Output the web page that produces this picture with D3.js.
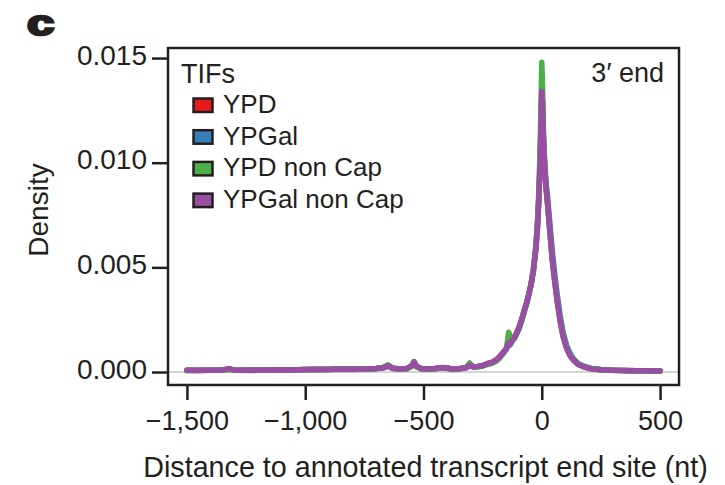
<!DOCTYPE html>
<html>
<head>
<meta charset="utf-8">
<script src="https://cdn.jsdelivr.net/npm/d3@7"></script>
<style>
  body { margin: 0; background: #fff; }
  svg text { font-family: "Liberation Sans", Arial, Helvetica, sans-serif; fill: #231f20; }
</style>
</head>
<body>
<div id="chart"></div>
<script>
// distance to annotated transcript end site (nt)
var xs = [-1500,-1450,-1400,-1350,-1320,-1300,-1250,-1200,-1150,-1100,-1050,-1000,-950,-900,-850,-800,-750,-700,-670,-650,-630,-600,-570,-550,-540,-530,-510,-480,-450,-420,-400,-380,-350,-320,-305,-290,-270,-250,-230,-210,-195,-180,-165,-150,-140,-135,-125,-115,-105,-95,-85,-75,-65,-55,-45,-35,-25,-18,-12,-7,-3,0,3,7,12,18,25,35,45,55,65,78,90,105,120,135,155,180,210,250,300,350,400,450,500];

var ypd = [0.00008,0.00007,0.00009,0.00010,0.00014,0.00009,0.00008,0.00010,0.00010,0.00011,0.00011,0.00012,0.00012,0.00013,0.00014,0.00014,0.00015,0.00017,0.00021,0.00029,0.00018,0.00016,0.00017,0.00029,0.00048,0.00027,0.00017,0.00016,0.00017,0.00021,0.00019,0.00015,0.00016,0.00021,0.00033,0.00025,0.00027,0.00031,0.00040,0.00047,0.00056,0.00071,0.00092,0.00112,0.00145,0.00135,0.00152,0.00168,0.00192,0.00218,0.00252,0.00292,0.00328,0.00372,0.00422,0.00492,0.00592,0.00705,0.00845,0.01010,0.01190,0.01345,0.01290,0.01110,0.00990,0.00880,0.00800,0.00665,0.00535,0.00435,0.00345,0.00245,0.00172,0.00115,0.00078,0.00056,0.00036,0.00024,0.00015,0.00011,0.00008,0.00007,0.00006,0.00006,0.00005];

var ypgal = [0.00007,0.00008,0.00009,0.00009,0.00015,0.00009,0.00008,0.00009,0.00010,0.00011,0.00010,0.00012,0.00013,0.00012,0.00014,0.00013,0.00015,0.00017,0.00020,0.00028,0.00018,0.00015,0.00017,0.00028,0.00046,0.00027,0.00016,0.00015,0.00017,0.00021,0.00019,0.00014,0.00016,0.00020,0.00030,0.00024,0.00026,0.00030,0.00039,0.00045,0.00054,0.00068,0.00088,0.00108,0.00135,0.00128,0.00148,0.00162,0.00186,0.00212,0.00246,0.00286,0.00322,0.00366,0.00416,0.00486,0.00585,0.00695,0.00835,0.00995,0.01175,0.01330,0.01285,0.01120,0.01010,0.00905,0.00830,0.00700,0.00570,0.00465,0.00372,0.00268,0.00190,0.00128,0.00088,0.00062,0.00040,0.00027,0.00017,0.00012,0.00009,0.00007,0.00006,0.00006,0.00005];

var ypdNonCap = [0.00007,0.00007,0.00008,0.00009,0.00012,0.00008,0.00007,0.00008,0.00009,0.00010,0.00010,0.00011,0.00011,0.00012,0.00013,0.00012,0.00014,0.00016,0.00022,0.00035,0.00017,0.00014,0.00016,0.00027,0.00044,0.00025,0.00014,0.00013,0.00015,0.00020,0.00017,0.00012,0.00014,0.00022,0.00043,0.00026,0.00024,0.00028,0.00036,0.00042,0.00050,0.00064,0.00085,0.00110,0.00190,0.00175,0.00150,0.00160,0.00185,0.00210,0.00245,0.00285,0.00325,0.00372,0.00425,0.00500,0.00605,0.00725,0.00880,0.01080,0.01300,0.01480,0.01380,0.01150,0.00990,0.00875,0.00790,0.00655,0.00525,0.00428,0.00340,0.00245,0.00175,0.00118,0.00082,0.00058,0.00038,0.00025,0.00016,0.00011,0.00008,0.00006,0.00005,0.00005,0.00004];

var ypgalNonCap = [0.00008,0.00008,0.00009,0.00010,0.00016,0.00009,0.00008,0.00009,0.00010,0.00011,0.00010,0.00012,0.00013,0.00012,0.00014,0.00013,0.00015,0.00017,0.00020,0.00030,0.00018,0.00015,0.00017,0.00030,0.00050,0.00028,0.00016,0.00015,0.00017,0.00022,0.00019,0.00014,0.00016,0.00020,0.00032,0.00024,0.00026,0.00030,0.00040,0.00046,0.00055,0.00070,0.00090,0.00110,0.00140,0.00130,0.00150,0.00165,0.00190,0.00215,0.00250,0.00290,0.00325,0.00370,0.00420,0.00490,0.00590,0.00700,0.00840,0.01000,0.01180,0.01340,0.01280,0.01100,0.00980,0.00880,0.00800,0.00660,0.00530,0.00430,0.00340,0.00240,0.00170,0.00112,0.00076,0.00055,0.00035,0.00024,0.00015,0.00011,0.00008,0.00007,0.00006,0.00006,0.00005];

var seriesNames = ["YPD", "YPGal", "YPD non Cap", "YPGal non Cap"];
var seriesValues = [ypd, ypgal, ypdNonCap, ypgalNonCap];
var seriesColors = ["#e41a1c", "#377eb8", "#4daf4a", "#984ea3"];

var xTicks = [-1500, -1000, -500, 0, 500];
var yTicks = [0, 0.005, 0.010, 0.015];

var width = 725, height = 485;
var box = { left: 168, right: 679, top: 48, bottom: 385 };

var svg = d3.select("#chart").append("svg")
  .attr("width", width)
  .attr("height", height);

var x = d3.scaleLinear().domain([-1580, 580]).range([box.left, box.right]);
var y = d3.scaleLinear().domain([-0.00062, 0.01548]).range([box.bottom, box.top]);

// grey zero line
svg.append("line")
  .attr("x1", box.left).attr("x2", box.right)
  .attr("y1", y(0)).attr("y2", y(0))
  .attr("stroke", "#c4c4c4")
  .attr("stroke-width", 1.5);

var line = d3.line()
  .x((d, i) => x(xs[i]))
  .y(d => y(d))
  .curve(d3.curveLinear);

svg.selectAll(".series")
  .data(seriesValues)
  .enter()
  .append("path")
  .attr("class", "series")
  .attr("d", d => line(d))
  .attr("fill", "none")
  .attr("stroke", (d, i) => seriesColors[i])
  .attr("stroke-width", 5.5)
  .attr("stroke-linejoin", "round")
  .attr("stroke-linecap", "round");

// plot box
svg.append("rect")
  .attr("x", box.left).attr("y", box.top)
  .attr("width", box.right - box.left)
  .attr("height", box.bottom - box.top)
  .attr("fill", "none")
  .attr("stroke", "#231f20")
  .attr("stroke-width", 2.5);

// x axis
var xAxis = svg.append("g")
  .attr("transform", "translate(0," + box.bottom + ")")
  .call(d3.axisBottom(x).tickValues(xTicks).tickSize(15).tickPadding(11).tickFormat(d3.format(",")));
xAxis.select(".domain").remove();
xAxis.selectAll(".tick line").attr("stroke", "#231f20").attr("stroke-width", 2.5);
xAxis.selectAll(".tick text").attr("font-size", 27).attr("fill", "#231f20");

// y axis
var yAxis = svg.append("g")
  .attr("transform", "translate(" + (box.left - 1) + ",0)")
  .call(d3.axisLeft(y).tickValues(yTicks).tickSize(15).tickPadding(5).tickFormat(d3.format(".3f")));
yAxis.select(".domain").remove();
yAxis.selectAll(".tick line").attr("stroke", "#231f20").attr("stroke-width", 2.5);
yAxis.selectAll(".tick text").attr("font-size", 28).attr("dy", "0.22em").attr("fill", "#231f20");

// axis titles
svg.append("text")
  .attr("x", 425.5)
  .attr("y", 477)
  .attr("text-anchor", "middle")
  .attr("font-size", 28.7)
  .text("Distance to annotated transcript end site (nt)");

svg.append("text")
  .attr("transform", "translate(48,210) rotate(-90)")
  .attr("text-anchor", "middle")
  .attr("font-size", 28)
  .text("Density");

// panel letter
svg.append("text")
  .attr("transform", "translate(27,35) scale(1.4,1)")
  .attr("font-size", 35)
  .attr("font-weight", "bold")
  .attr("stroke", "#231f20")
  .attr("stroke-width", 2.5)
  .text("c");

// 3' end note
svg.append("text")
  .attr("x", 664)
  .attr("y", 82)
  .attr("text-anchor", "end")
  .attr("font-size", 27)
  .text("3\u2032 end");

// legend
var legend = svg.append("g").attr("transform", "translate(181,0)");
legend.append("text")
  .attr("x", 0).attr("y", 83)
  .attr("font-size", 27)
  .text("TIFs");

var items = legend.selectAll(".legend-item")
  .data(seriesNames)
  .enter()
  .append("g")
  .attr("class", "legend-item")
  .attr("transform", (d, i) => "translate(0," + (113 + i * 31.7) + ")");

items.append("rect")
  .attr("x", 12.5).attr("y", -14.5)
  .attr("width", 19).attr("height", 13.5)
  .attr("fill", (d, i) => seriesColors[i])
  .attr("stroke", "#231f20")
  .attr("stroke-width", 2.5);

items.append("text")
  .attr("x", 42).attr("y", 0)
  .attr("font-size", 26)
  .text(d => d);
</script>
</body>
</html>
